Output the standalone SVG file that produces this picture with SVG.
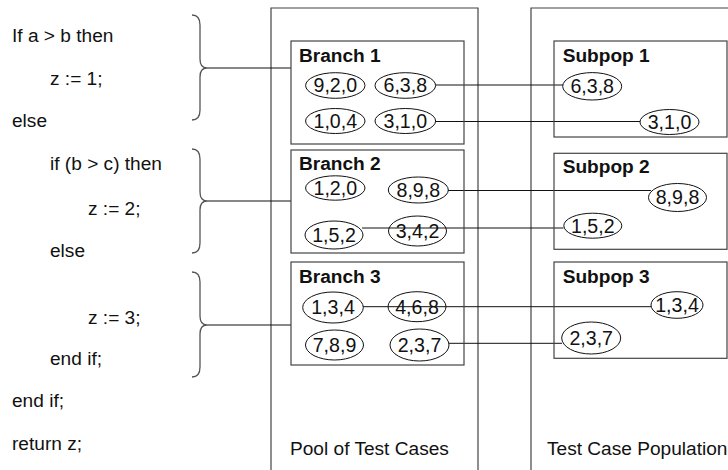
<svg xmlns="http://www.w3.org/2000/svg" width="728" height="470" viewBox="0 0 728 470">
<style>
text{font-family:"Liberation Sans",Arial,sans-serif;font-size:19.1px;fill:#111}
.t{font-weight:bold}
.c{text-anchor:middle;font-size:19.6px}
.box{fill:none;stroke:#444;stroke-width:1.2}
.el{fill:none;stroke:#111;stroke-width:1}
.br{fill:none;stroke:#555;stroke-width:1.3}
.cn{stroke:#111;stroke-width:1;fill:none}
</style>
<rect width="728" height="470" fill="#fff"/>
<g id="code">
<text x="12" y="41.5">If a &gt; b then</text>
<text x="50" y="84.5">z := 1;</text>
<text x="12" y="127">else</text>
<text x="50" y="170">if (b &gt; c) then</text>
<text x="88" y="215">z := 2;</text>
<text x="50" y="256.5">else</text>
<text x="88" y="323.5">z := 3;</text>
<text x="50" y="365">end if;</text>
<text x="12" y="407">end if;</text>
<text x="12" y="450">return z;</text>
</g>
<g id="braces">
<path class="br" d="M192,15 Q200,15 200,25 L200,59 Q200,68 207,68 Q200,68 200,77 L200,110 Q200,120 192,120"/>
<path class="br" d="M192,149 Q200,149 200,159 L200,192 Q200,201 207,201 Q200,201 200,210 L200,243 Q200,253 192,253"/>
<path class="br" d="M192,272 Q200,272 200,282 L200,316 Q200,325 207,325 Q200,325 200,334 L200,367 Q200,377 192,377"/>
</g>
<g id="pool">
<path class="box" d="M271,475 L271,8 L478,8 L478,475"/>
<text x="290" y="455">Pool of Test Cases</text>
</g>
<g id="population">
<path class="box" d="M531,475 L531,8 L735,8"/>
<text x="547" y="455">Test Case Population</text>
</g>
<g id="connectors">
<line class="cn" x1="207" y1="68" x2="291" y2="68"/>
<line class="cn" x1="207" y1="201" x2="291" y2="201"/>
<line class="cn" x1="207" y1="325" x2="291" y2="325"/>
<line class="cn" x1="435.5" y1="85" x2="563" y2="85"/>
<line class="cn" x1="435.5" y1="121.5" x2="640" y2="121.5"/>
<line class="cn" x1="448" y1="190.5" x2="651" y2="190.5"/>
<line class="cn" x1="362" y1="228" x2="563.5" y2="228"/>
<line class="cn" x1="363" y1="306.7" x2="651" y2="306.7"/>
<line class="cn" x1="449" y1="343.3" x2="562" y2="343.3"/>
</g>
<g id="branch1">
<rect class="box" x="291" y="41" width="173" height="103"/>
<text class="t" x="299" y="61.7">Branch 1</text>
<ellipse class="el" cx="335.3" cy="85.5" rx="29.7" ry="12.8"/>
<text class="c" x="335.3" y="92.3">9,2,0</text>
<ellipse class="el" cx="405.3" cy="85.5" rx="30.3" ry="12.8"/>
<text class="c" x="405.3" y="92.3">6,3,8</text>
<ellipse class="el" cx="335.3" cy="121" rx="29.7" ry="12.5"/>
<text class="c" x="335.3" y="127.8">1,0,4</text>
<ellipse class="el" cx="405.3" cy="121" rx="30.3" ry="12.5"/>
<text class="c" x="405.3" y="127.8">3,1,0</text>
</g>
<g id="branch2">
<rect class="box" x="291" y="150" width="173" height="103"/>
<text class="t" x="299" y="170">Branch 2</text>
<ellipse class="el" cx="335.3" cy="188" rx="29.7" ry="12.2"/>
<text class="c" x="335.3" y="194.8">1,2,0</text>
<ellipse class="el" cx="418.3" cy="190" rx="30" ry="13"/>
<text class="c" x="418.3" y="196.8">8,9,8</text>
<ellipse class="el" cx="334" cy="235" rx="29" ry="14"/>
<text class="c" x="334" y="241.8">1,5,2</text>
<ellipse class="el" cx="417.5" cy="231" rx="29" ry="15"/>
<text class="c" x="417.5" y="237.8">3,4,2</text>
</g>
<g id="branch3">
<rect class="box" x="291" y="262" width="173" height="103"/>
<text class="t" x="299" y="283">Branch 3</text>
<ellipse class="el" cx="333" cy="307.5" rx="30.3" ry="15.5"/>
<text class="c" x="333" y="314.3">1,3,4</text>
<ellipse class="el" cx="417" cy="306.7" rx="29" ry="15"/>
<text class="c" x="417" y="313.5">4,6,8</text>
<ellipse class="el" cx="334.5" cy="345" rx="29" ry="15"/>
<text class="c" x="334.5" y="351.8">7,8,9</text>
<ellipse class="el" cx="419.5" cy="345" rx="29.5" ry="16"/>
<text class="c" x="419.5" y="351.8">2,3,7</text>
</g>
<g id="subpop1">
<rect class="box" x="554" y="41" width="173" height="96"/>
<text class="t" x="562.7" y="61.7">Subpop 1</text>
<ellipse class="el" cx="592.2" cy="86.3" rx="29.5" ry="13.7"/>
<text class="c" x="592.2" y="93.1">6,3,8</text>
<ellipse class="el" cx="669.5" cy="122" rx="29.5" ry="12.5"/>
<text class="c" x="669.5" y="128.8">3,1,0</text>
</g>
<g id="subpop2">
<rect class="box" x="554" y="153.3" width="173" height="96"/>
<text class="t" x="562.7" y="173.3">Subpop 2</text>
<ellipse class="el" cx="677.5" cy="197.5" rx="29" ry="14"/>
<text class="c" x="677.5" y="204.3">8,9,8</text>
<ellipse class="el" cx="592.8" cy="225.7" rx="29" ry="12.5"/>
<text class="c" x="592.8" y="232.5">1,5,2</text>
</g>
<g id="subpop3">
<rect class="box" x="554" y="262" width="173" height="96.3"/>
<text class="t" x="562.7" y="282.7">Subpop 3</text>
<ellipse class="el" cx="677" cy="305" rx="26" ry="13.3"/>
<text class="c" x="677" y="311.8">1,3,4</text>
<ellipse class="el" cx="591.2" cy="338" rx="29.5" ry="16"/>
<text class="c" x="591.2" y="344.8">2,3,7</text>
</g>
</svg>
